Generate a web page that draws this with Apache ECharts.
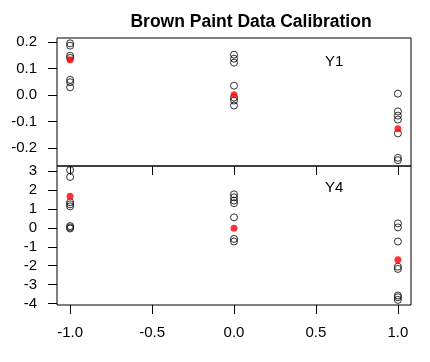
<!DOCTYPE html>
<html>
<head>
<meta charset="utf-8">
<script src="https://cdn.jsdelivr.net/npm/echarts@6/dist/echarts.min.js"></script>
<style>html,body{margin:0;padding:0;background:#fff}#c{width:430px;height:362px}</style>
</head>
<body>
<div id="c"></div>
<script>
// Data
var xLevels = [-1, 0, 1];
var y1AtMinus1 = [0.195, 0.186, 0.148, 0.140, 0.057, 0.048, 0.029];
var y1AtZero = [0.152, 0.137, 0.122, 0.035, -0.010, -0.021, -0.040];
var y1AtPlus1 = [0.005, -0.062, -0.078, -0.093, -0.145, -0.237, -0.246];
var y1Calib = [0.133, 0.001, -0.127];
var y4AtMinus1 = [3.06, 2.70, 1.36, 1.25, 1.14, 0.10, 0.03, -0.03];
var y4AtZero = [1.78, 1.62, 1.45, 1.31, 0.56, -0.58, -0.72];
var y4AtPlus1 = [0.24, 0.03, -0.72, -2.05, -2.17, -3.58, -3.67, -3.81];
var y4Calib = [1.68, -0.02, -1.68];
var xTicks = [-1, -0.5, 0, 0.5, 1];
var y1Ticks = [-0.2, -0.1, 0.0, 0.1, 0.2];
var y4Ticks = [-4, -3, -2, -1, 0, 1, 2, 3];
var panelNames = ['Y1', 'Y4'];
var title = 'Brown Paint Data Calibration';

function pts(groups) {
  var out = [];
  groups.forEach(function (g, i) { g.forEach(function (v) { out.push([xLevels[i], v]); }); });
  return out;
}
function calib(vals) { return vals.map(function (v, i) { return [xLevels[i], v]; }); }

var font = 'Liberation Sans, Arial, sans-serif';
var openStyle = { color: 'rgba(0,0,0,0)', borderColor: '#000', borderWidth: 1 };
var redStyle = { color: '#ff0000', borderColor: '#ff0000', borderWidth: 0 };
var hiddenLine = { show: false, onZero: false };

var chart = echarts.init(document.getElementById('c'), null, { renderer: 'canvas' });
chart.setOption({
  animation: false,
  backgroundColor: '#fff',
  title: {
    text: title, left: 246, top: 8, textAlign: 'center',
    textStyle: { fontFamily: font, fontWeight: 'bold', fontSize: 17.5, color: '#000' }
  },
  grid: [
    { left: 57, right: 19, top: 38, height: 128, show: true, borderColor: '#000', borderWidth: 1, backgroundColor: 'transparent' },
    { left: 57, right: 19, top: 166, height: 139, show: true, borderColor: '#000', borderWidth: 1, backgroundColor: 'transparent' }
  ],
  xAxis: [
    { gridIndex: 0, type: 'value', position: 'bottom', min: -1.08, max: 1.08, splitLine: { show: false },
      axisLine: hiddenLine,
      axisTick: { show: true, inside: false, length: 9, customValues: xTicks, lineStyle: { color: '#000' } },
      axisLabel: { show: false } },
    { gridIndex: 1, type: 'value', position: 'bottom', min: -1.08, max: 1.08, splitLine: { show: false },
      axisLine: hiddenLine,
      axisTick: { show: true, inside: false, length: 9, customValues: xTicks, lineStyle: { color: '#000' } },
      axisLabel: { show: true, margin: 20, customValues: xTicks, fontFamily: font, fontSize: 15, color: '#000',
        formatter: function (v) { return v.toFixed(1); } } }
  ],
  yAxis: [
    { gridIndex: 0, type: 'value', position: 'left', min: -0.268, max: 0.215, splitLine: { show: false },
      axisLine: hiddenLine,
      axisTick: { show: true, inside: false, length: 9, customValues: y1Ticks, lineStyle: { color: '#000' } },
      axisLabel: { show: true, margin: 20, customValues: y1Ticks, fontFamily: font, fontSize: 15, color: '#000',
        formatter: function (v) { return v.toFixed(1); } } },
    { gridIndex: 1, type: 'value', position: 'left', min: -4.08, max: 3.28, splitLine: { show: false },
      axisLine: hiddenLine,
      axisTick: { show: true, inside: false, length: 9, customValues: y4Ticks, lineStyle: { color: '#000' } },
      axisLabel: { show: true, margin: 20, customValues: y4Ticks, fontFamily: font, fontSize: 15, color: '#000',
        formatter: function (v) { return String(Math.round(v)); } } }
  ],
  series: [
    { type: 'scatter', xAxisIndex: 0, yAxisIndex: 0, symbol: 'circle', symbolSize: 7, itemStyle: openStyle,
      data: pts([y1AtMinus1, y1AtZero, y1AtPlus1]), z: 2 },
    { type: 'scatter', xAxisIndex: 0, yAxisIndex: 0, symbol: 'circle', symbolSize: 7, itemStyle: redStyle,
      data: calib(y1Calib), z: 3 },
    { type: 'scatter', xAxisIndex: 1, yAxisIndex: 1, symbol: 'circle', symbolSize: 7, itemStyle: openStyle,
      data: pts([y4AtMinus1, y4AtZero, y4AtPlus1]), z: 2 },
    { type: 'scatter', xAxisIndex: 1, yAxisIndex: 1, symbol: 'circle', symbolSize: 7, itemStyle: redStyle,
      data: calib(y4Calib), z: 3 }
  ],
  graphic: [
    { type: 'text', left: 325, top: 54, style: { text: panelNames[0], font: '15px ' + font, fill: '#000' } },
    { type: 'text', left: 325, top: 180, style: { text: panelNames[1], font: '15px ' + font, fill: '#000' } }
  ]
});
</script>
</body>
</html>
